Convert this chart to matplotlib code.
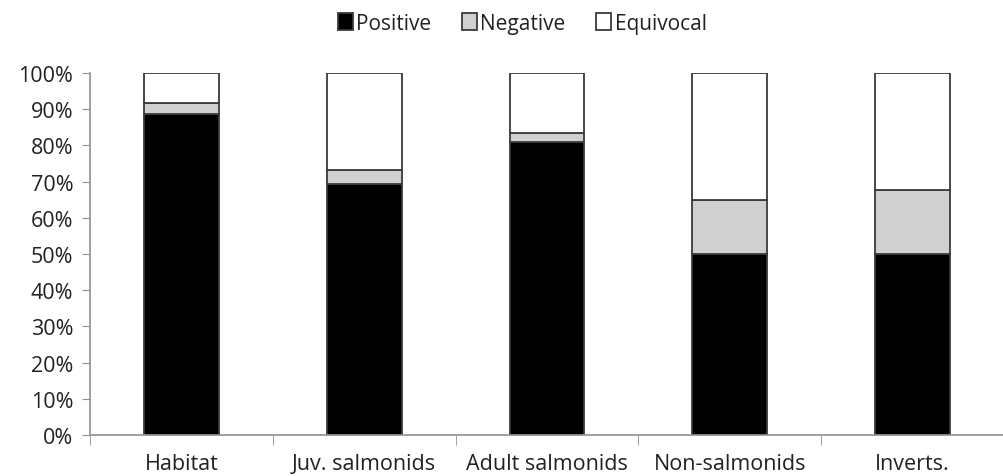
import numpy as np
from matplotlib import pyplot as plt
from matplotlib.ticker import PercentFormatter

categories = ['Habitat', 'Juv. salmonids', 'Adult salmonids', 'Non-salmonids', 'Inverts.']
positive = [88.7, 69.3, 80.9, 50.0, 50.0]
negative = [3.1, 4.0, 2.6, 14.9, 17.7]
equivocal = [8.2, 26.7, 16.5, 35.1, 32.3]

plt.rcParams['font.family'] = ['Open Sans', 'DejaVu Sans']

fig = plt.figure(figsize=(10.04, 4.77), dpi=100)
ax = fig.add_axes([0.0896, 0.086, 0.9104, 0.759])

x = np.arange(len(categories))
w = 0.41
edge = '#3a3a3a'
ax.bar(x, positive, w, color='black', edgecolor=edge, linewidth=1.3, label='Positive')
ax.bar(x, negative, w, bottom=positive, color='#d0d0d0', edgecolor=edge, linewidth=1.3, label='Negative')
bottom2 = np.array(positive) + np.array(negative)
ax.bar(x, equivocal, w, bottom=bottom2, color='white', edgecolor=edge, linewidth=1.3, label='Equivocal')

ax.set_xlim(-0.5, len(categories) - 0.5)
ax.set_ylim(0, 100)
ax.set_yticks(np.arange(0, 101, 10))
ax.yaxis.set_major_formatter(PercentFormatter(decimals=0))
ax.set_xticks(x)
ax.set_xticklabels(categories, fontsize=15.5, color='#222222')
ax.tick_params(axis='x', length=0, pad=13)
ax.set_xticks(np.arange(-0.5, len(categories)), minor=True)
ax.tick_params(axis='x', which='minor', length=7, color='#909090', direction='out')
ax.tick_params(axis='y', labelsize=15.5, labelcolor='#222222', length=6, color='#909090', pad=6)

for s in ['top', 'right']:
    ax.spines[s].set_visible(False)
for s in ['left', 'bottom']:
    ax.spines[s].set_color('#909090')
    ax.spines[s].set_linewidth(1.2)

leg = fig.legend(loc='upper center', bbox_to_anchor=(0.52, 1.01), ncol=3, frameon=False,
                 fontsize=15, handlelength=0.75, handleheight=0.9, handletextpad=0.15,
                 columnspacing=1.45)
for t in leg.get_texts():
    t.set_color('#222222')

fig.savefig('out.png', dpi=100)
